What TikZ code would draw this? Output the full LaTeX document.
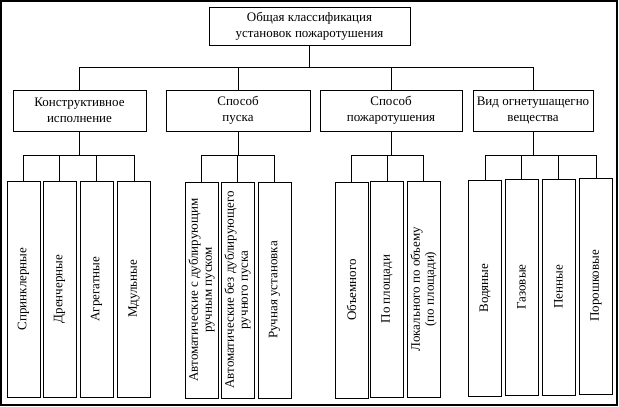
\documentclass[tikz,border=0pt]{standalone}
\usepackage{fontspec}
\setmainfont{Liberation Serif}
\tikzset{
  headbox/.style={draw,align=center,inner sep=1pt,
    font=\fontsize{13}{16}\selectfont},
  leafbox/.style={draw,rotate=90,align=center,inner sep=1pt,
    minimum width=216pt,minimum height=33pt,
    font=\fontsize{13}{14}\selectfont}}

\begin{document}
\begin{tikzpicture}[x=1pt,y=-1pt,line width=0.7pt]
\useasboundingbox (0,0) rectangle (619,407);
\draw[line width=1.5pt] (1,1) rectangle (617,405);
\node[headbox,minimum width=201pt,minimum height=38pt] (root)
  at (309.5,26) {Общая классификация\\установок пожаротушения};
\node[headbox,minimum width=133pt,minimum height=41pt] (konstr)
  at (79.5,110.5) {Конструктивное\\исполнение};
\node[headbox,minimum width=144pt,minimum height=41pt] (pusk)
  at (238,110.5) {Способ\\пуска};
\node[headbox,minimum width=142pt,minimum height=41pt] (tush)
  at (391,110.5) {Способ\\пожаротушения};
\node[headbox,minimum width=120pt,minimum height=41pt] (vid)
  at (533,110.5) {Вид огнетушащегно\\вещества};
% leaves, text turned
\node[leafbox] (spr) at (23.5,289) {Спринклерные};
\node[leafbox] (dren) at (59.5,289) {Дренчерные};
\node[leafbox] (agr) at (96.5,289) {Агрегатные};
\node[leafbox] (mod) at (134,289) {Мдульные};
\node[leafbox] (avt) at (201.5,290) {Автоматические с дублирующим\\ручным пуском};
\node[leafbox] (avtb) at (237.5,290) {Автоматические без дублирующего\\ручного пуска};
\node[leafbox] (ruch) at (274.5,290) {Ручная установка};
\node[leafbox] (obj) at (351.5,290) {Объемного};
\node[leafbox] (pl) at (387,289) {По площади};
\node[leafbox] (lok) at (423.5,289) {Локального по объему\\(по площади)};
\node[leafbox] (vod) at (485,288) {Водяные};
\node[leafbox] (gaz) at (521.5,287) {Газовые};
\node[leafbox] (pen) at (558.5,287) {Пенные};
\node[leafbox] (por) at (596,286) {Порошковые};
% buses
\coordinate (topbus) at (0,67);
\coordinate (lowbus) at (0,155);
\draw (root.south) -- (root.south |- topbus);
\draw (konstr.north) -- (konstr.north |- topbus)
  -- (vid.north |- topbus) -- (vid.north);
\draw (pusk.north) -- (pusk.north |- topbus);
\draw (tush.north) -- (tush.north |- topbus);
\draw (konstr.south) -- (konstr.south |- lowbus);
\draw (spr.east) -- (spr.east |- lowbus) -- (mod.east |- lowbus) -- (mod.east);
\draw (dren.east) -- (dren.east |- lowbus);
\draw (agr.east) -- (agr.east |- lowbus);
\draw (pusk.south) -- (pusk.south |- lowbus);
\draw (avt.east) -- (avt.east |- lowbus) -- (ruch.east |- lowbus) -- (ruch.east);
\draw (avtb.east) -- (avtb.east |- lowbus);
\draw (tush.south) -- (tush.south |- lowbus);
\draw (obj.east) -- (obj.east |- lowbus) -- (lok.east |- lowbus) -- (lok.east);
\draw (pl.east) -- (pl.east |- lowbus);
\draw (vid.south) -- (vid.south |- lowbus);
\draw (vod.east) -- (vod.east |- lowbus) -- (por.east |- lowbus) -- (por.east);
\draw (gaz.east) -- (gaz.east |- lowbus);
\draw (pen.east) -- (pen.east |- lowbus);
\end{tikzpicture}
\end{document}
